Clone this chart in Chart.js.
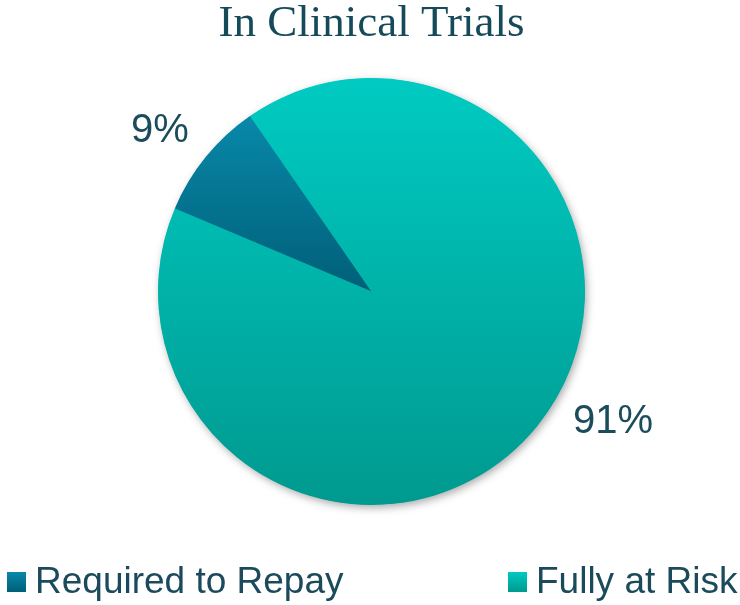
<!DOCTYPE html>
<html><head><meta charset="utf-8">
<script src="https://cdn.jsdelivr.net/npm/chart.js@4"></script>
<style>
html,body{margin:0;padding:0;background:#fff;}
#wrap{position:relative;width:740px;height:605px;overflow:hidden;}
canvas{position:absolute;left:0;top:0;}
.leg{position:absolute;font:37px "Liberation Sans",Arial,sans-serif;color:#1a4a5b;line-height:37px;white-space:nowrap;}
.box{position:absolute;width:19px;height:20px;}
</style></head><body>
<div id="wrap"><canvas id="c" width="740" height="605"></canvas><div id="legend"></div></div>
<script>
const categories = ['Required to Repay', 'Fully at Risk'];
const values = [9, 91];
const valueLabels = ['9%', '91%'];
const titleText = 'In Clinical Trials';

const palettes = [['#0888a9', '#005f78'], ['#00cbc2', '#00998f']];

const shadowPlugin = {
  id: 'pieShadow',
  beforeDatasetsDraw(chart) {
    const a = chart.getDatasetMeta(0).data[0];
    if (!a) return;
    const c = chart.ctx;
    c.save();
    c.shadowColor = 'rgba(0,0,0,0.35)';
    c.shadowBlur = 8;
    c.shadowOffsetX = 2;
    c.shadowOffsetY = 3;
    c.beginPath();
    c.arc(a.x, a.y, a.outerRadius - 0.5, 0, Math.PI * 2);
    c.fillStyle = '#00a89f';
    c.fill();
    c.restore();
  }
};

const labelPlugin = {
  id: 'outLabels',
  afterDatasetsDraw(chart, args, opts) {
    const meta = chart.getDatasetMeta(0);
    const c = chart.ctx;
    c.save();
    c.font = '40px "Liberation Sans", Arial, sans-serif';
    c.fillStyle = '#1b4c5c';
    c.textAlign = 'center';
    c.textBaseline = 'middle';
    meta.data.forEach((arc, i) => {
      const p = arc.getProps(['x', 'y', 'startAngle', 'endAngle', 'outerRadius'], true);
      const mid = (p.startAngle + p.endAngle) / 2 + (opts.shift[i] || 0) * Math.PI / 180;
      const d = p.outerRadius + opts.gap[i];
      c.fillText(valueLabels[i], p.x + Math.cos(mid) * d, p.y + Math.sin(mid) * d);
    });
    c.restore();
  }
};

new Chart(document.getElementById('c'), {
  type: 'pie',
  data: {
    labels: categories,
    datasets: [{
      data: values,
      borderWidth: 0,
      hoverOffset: 0,
      backgroundColor: (ctx) => {
        const ca = ctx.chart.chartArea;
        const pal = palettes[ctx.dataIndex];
        if (!ca) return pal[0];
        const cy = (ca.top + ca.bottom) / 2;
        const r = Math.min(ca.right - ca.left, ca.bottom - ca.top) / 2;
        const g = ctx.dataIndex === 0
          ? ctx.chart.ctx.createLinearGradient(0, cy - r * 0.82, 0, cy)
          : ctx.chart.ctx.createLinearGradient(0, cy - r, 0, cy + r);
        g.addColorStop(0, pal[0]);
        g.addColorStop(1, pal[1]);
        return g;
      }
    }]
  },
  options: {
    responsive: false,
    animation: false,
    devicePixelRatio: 1,
    rotation: -67.1,
    layout: { padding: { top: 0, bottom: 100, left: 3, right: 0 } },
    plugins: {
      legend: { display: false },
      tooltip: { enabled: false },
      title: {
        display: true,
        text: titleText,
        color: '#154a5b',
        font: { family: '"Liberation Serif", "Times New Roman", serif', size: 45, weight: 'normal', lineHeight: 1 },
        padding: { top: 2, bottom: 31 }
      },
      outLabels: { shift: [-1.9, -10.7], gap: [52, 61] }
    }
  },
  plugins: [shadowPlugin, labelPlugin]
});

// HTML legend built from the categories
const legendPos = [7, 508];
const legend = document.getElementById('legend');
categories.forEach((name, i) => {
  const b = document.createElement('div');
  b.className = 'box';
  b.style.left = legendPos[i] + 'px';
  b.style.top = '572px';
  b.style.background = 'linear-gradient(' + palettes[i][0] + ',' + palettes[i][1] + ')';
  legend.appendChild(b);
  const t = document.createElement('div');
  t.className = 'leg';
  t.style.left = (legendPos[i] + 28) + 'px';
  t.style.top = '561.6px';
  t.textContent = name;
  legend.appendChild(t);
});
</script>
</body></html>
